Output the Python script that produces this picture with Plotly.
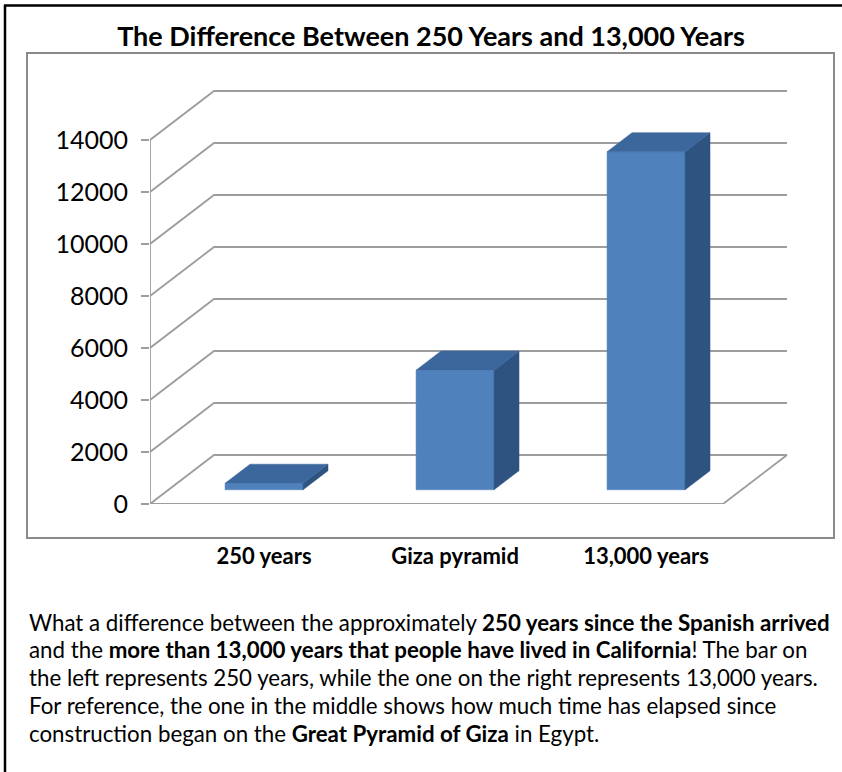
import plotly.graph_objects as go

# ---------------- data ----------------
CATEGORIES = ["250 years", "Giza pyramid", "13,000 years"]
YEARS = [250, 4600, 13000]
Y_TICKS = [0, 2000, 4000, 6000, 8000, 10000, 12000, 14000]
Y_TICK_LABELS = ["0", "2000", "4000", "6000", "8000", "10000", "12000", "14000"]
TITLE = "The Difference Between 250 Years and 13,000 Years"
BODY_LINES = [
    "What a difference between the approximately <b>250 years since the Spanish arrived</b>",
    "and the <b>more than 13,000 years that people have lived in California</b>! The bar on",
    "the left represents 250 years, while the one on the right represents 13,000 years.",
    "For reference, the one in the middle shows how much time has elapsed since",
    "construction began on the <b>Great Pyramid of Giza</b> in Egypt.",
]

# ---------------- layout / style ----------------
W, H = 842, 772
ML, MR, MT, MB = 150, 42, 88, 268
PW, PH = W - ML - MR, H - MT - MB
PX_PER_CAT = 191.0
Y_MAX = 16000
PX_PER_VAL = PH / Y_MAX
X_MIN = -0.5
X_MAX = X_MIN + PW / PX_PER_CAT
FLOOR_L, FLOOR_R = -0.5, len(CATEGORIES) - 0.5

DX = 64 / PX_PER_CAT          # depth offset in x units
DY = 49 / PX_PER_VAL          # depth offset in value units
F0, F1 = 0.29, 0.68           # bar depth (front/back)
HALF_W = 39 / PX_PER_CAT

GRID = "#9d9d9d"
FRONT = "#4f81bd"
TOP = "#3b679d"
SIDE = "#2f5380"
FONT = "Lato"


def P(x, y, d):
    return x + d * DX, y + d * DY


def px_to_paper_x(px):
    return (px - ML) / PW


def px_to_paper_y(py):
    return (H - MB - py) / PH


fig = go.Figure()

# back wall / side wall gridlines
gx, gy = [], []
for v in Y_TICKS:
    for (x, y, d) in [(FLOOR_L, v, 0), (FLOOR_L, v, 1), (FLOOR_R, v, 1)]:
        px, py = P(x, y, d)
        gx.append(px)
        gy.append(py)
    gx.append(None)
    gy.append(None)
# floor front edge and right edge
for (x, y, d) in [(FLOOR_L, 0, 0), (FLOOR_R, 0, 0), (FLOOR_R, 0, 1)]:
    px, py = P(x, y, d)
    gx.append(px)
    gy.append(py)
gx.append(None)
gy.append(None)
# vertical axis line
for (x, y, d) in [(FLOOR_L, 0, 0), (FLOOR_L, Y_TICKS[-1], 0)]:
    px, py = P(x, y, d)
    gx.append(px)
    gy.append(py)

fig.add_trace(go.Scatter(x=gx, y=gy, mode="lines", line=dict(color=GRID, width=1.8),
                         hoverinfo="skip", showlegend=False))


def face(pts, color):
    xs, ys = [], []
    for p in pts:
        a, b = P(*p)
        xs.append(a)
        ys.append(b)
    xs.append(xs[0])
    ys.append(ys[0])
    fig.add_trace(go.Scatter(x=xs, y=ys, mode="lines", fill="toself", fillcolor=color,
                             line=dict(color=color, width=0.5), hoverinfo="skip",
                             showlegend=False))


for i, (cat, v) in enumerate(zip(CATEGORIES, YEARS)):
    l, r = i - HALF_W, i + HALF_W
    face([(l, 0, F0), (r, 0, F0), (r, v, F0), (l, v, F0)], FRONT)
    face([(r, 0, F0), (r, 0, F1), (r, v, F1), (r, v, F0)], SIDE)
    face([(l, v, F0), (r, v, F0), (r, v, F1), (l, v, F1)], TOP)

# shapes: outer border and chart box
shapes = [
    dict(type="rect", xref="paper", yref="paper",
         x0=px_to_paper_x(27), x1=px_to_paper_x(834),
         y0=px_to_paper_y(538), y1=px_to_paper_y(53),
         line=dict(color="#8a8a8a", width=2), layer="below"),
    dict(type="line", xref="paper", yref="paper",
         x0=px_to_paper_x(5), x1=px_to_paper_x(5),
         y0=px_to_paper_y(5), y1=px_to_paper_y(775),
         line=dict(color="black", width=2.5)),
    dict(type="line", xref="paper", yref="paper",
         x0=px_to_paper_x(4), x1=px_to_paper_x(845),
         y0=px_to_paper_y(5.5), y1=px_to_paper_y(5.5),
         line=dict(color="black", width=2.5)),
]

annotations = []
for k, line in enumerate(BODY_LINES):
    annotations.append(dict(
        text=line, xref="paper", yref="paper",
        x=px_to_paper_x(27), y=px_to_paper_y(622 + 27.8 * k),
        xanchor="left", yanchor="middle", showarrow=False,
        font=dict(family=FONT, size=22.3, color="black")))

fig.update_layout(
    width=W, height=H,
    margin=dict(l=ML, r=MR, t=MT, b=MB),
    paper_bgcolor="white", plot_bgcolor="white",
    title=dict(text=TITLE, x=431 / W, xanchor="center", y=1 - 37 / H, yanchor="middle",
               yref="container", font=dict(family=FONT, size=27, color="black", weight="bold")),
    xaxis=dict(range=[X_MIN, X_MAX], showgrid=False, zeroline=False, showline=False,
               tickvals=[i + F0 * DX for i in range(len(CATEGORIES))], ticktext=CATEGORIES,
               ticks="", ticklabelstandoff=37,
               tickfont=dict(family=FONT, size=22, color="black", weight="bold"),
               fixedrange=True),
    yaxis=dict(range=[0, Y_MAX], showgrid=False, zeroline=False, showline=False,
               tickvals=Y_TICKS, ticktext=Y_TICK_LABELS, ticks="outside", ticklen=8,
               tickwidth=1.8, tickcolor=GRID, ticklabelstandoff=8,
               tickfont=dict(family=FONT, size=25, color="black"), fixedrange=True),
    shapes=shapes,
    annotations=annotations,
)

fig.write_html("out.html")
